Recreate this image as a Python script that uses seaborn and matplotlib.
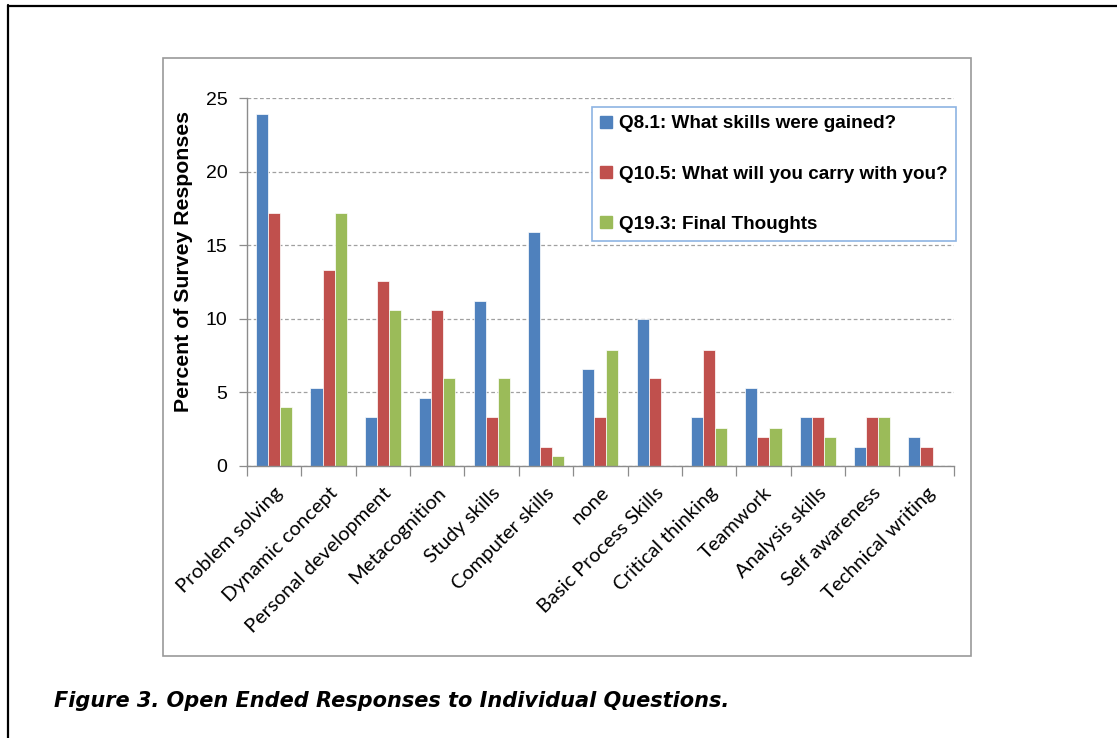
import matplotlib
matplotlib.use("Agg")
import matplotlib.pyplot as plt
from matplotlib.lines import Line2D
from matplotlib.patches import Rectangle
import numpy as np
import pandas as pd
import seaborn as sns

# Survey data (percent of responses)
categories = ["Problem solving", "Dynamic concept", "Personal development",
              "Metacognition", "Study skills", "Computer skills", "none",
              "Basic Process Skills", "Critical thinking", "Teamwork",
              "Analysis skills", "Self awareness", "Technical writing"]
q8_1 = [23.9, 5.3, 3.3, 4.6, 11.2, 15.9, 6.6, 10.0, 3.3, 5.3, 3.3, 1.3, 2.0]
q10_5 = [17.2, 13.3, 12.6, 10.6, 3.3, 1.3, 3.3, 6.0, 7.9, 2.0, 3.3, 3.3, 1.3]
q19_3 = [4.0, 17.2, 10.6, 6.0, 6.0, 0.7, 7.9, 0.0, 2.6, 2.6, 2.0, 3.3, 0.0]
series_names = ["Q8.1: What skills were gained?",
                "Q10.5: What will you carry with you?",
                "Q19.3: Final Thoughts"]
y_ticks = [0, 5, 10, 15, 20, 25]
caption = "Figure 3. Open Ended Responses to Individual Questions."

colors = ["#4F81BD", "#C0504D", "#9BBB59"]

df = pd.DataFrame({
    "category": categories * 3,
    "value": q8_1 + q10_5 + q19_3,
    "series": sum([[s] * len(categories) for s in series_names], []),
})

sns.set_theme(style="white")
plt.rcParams["font.family"] = ["Liberation Sans", "DejaVu Sans"]
plt.rcParams.update({"text.color": "black", "axes.labelcolor": "black",
                     "xtick.color": "black", "ytick.color": "black"})

W, H = 1117, 738
fig = plt.figure(figsize=(W / 100, H / 100), dpi=100)
fig.patch.set_facecolor("white")

def fx(px):
    return px / W

def fy(py):
    return 1 - py / H

# page frame lines
fig.add_artist(Line2D([fx(8), fx(8)], [fy(5), 0], color="black", lw=1.6,
                      transform=fig.transFigure))
fig.add_artist(Line2D([fx(8), 1], [fy(6), fy(6)], color="black", lw=1.6,
                      transform=fig.transFigure))
# chart area border
fig.add_artist(Rectangle((fx(163), fy(656)), fx(971) - fx(163), fy(58) - fy(656),
                         fill=False, edgecolor="#9A9A9A", lw=1.2,
                         transform=fig.transFigure))

ax_l, ax_r, ax_t, ax_b = 247, 953.7, 98.3, 466
ax = fig.add_axes([fx(ax_l), fy(ax_b), fx(ax_r) - fx(ax_l), fy(ax_t) - fy(ax_b)])

sns.barplot(data=df, x="category", y="value", hue="series", order=categories,
            hue_order=series_names, palette=colors, saturation=1, width=0.665,
            edgecolor="white", linewidth=0.5, legend=False, ax=ax)

ax.set_xlim(-0.5, len(categories) - 0.5)
ax.set_ylim(0, 25)
ax.set_yticks(y_ticks)
ax.set_yticklabels([str(t) for t in y_ticks], fontsize=14, color="black")
ax.yaxis.grid(True, linestyle=(0, (3, 2)), color="#A0A0A0", lw=0.9)
ax.set_axisbelow(True)

for side in ["top", "right"]:
    ax.spines[side].set_visible(False)
for side in ["left", "bottom"]:
    ax.spines[side].set_color("#8C8C8C")
    ax.spines[side].set_linewidth(1.0)

ax.tick_params(axis="y", which="major", length=6, width=0.9, color="#8C8C8C",
               pad=8, left=True)
ax.set_xticks(np.arange(len(categories)))
ax.set_xticklabels(categories, rotation=45, ha="right", va="top",
                   rotation_mode="anchor", fontsize=14.5,
                   family=["Lato", "DejaVu Sans"])
ax.tick_params(axis="x", which="major", length=0, pad=13)
ax.set_xticks(np.arange(-0.5, len(categories)), minor=True)
ax.tick_params(axis="x", which="minor", length=7, width=0.9, color="#8C8C8C",
               bottom=True)

ax.set_xlabel("")
ax.set_ylabel("Percent of Survey Responses", fontsize=15.3, fontweight="bold")
ax.yaxis.set_label_coords((193 - ax_l) / (ax_r - ax_l), (ax_b - 261) / (ax_b - ax_t))

handles = [Line2D([], [], marker="s", linestyle="", markersize=9,
                  markerfacecolor=c, markeredgecolor=c) for c in colors]
leg = ax.legend(handles, series_names, loc="center",
                bbox_to_anchor=((774 - ax_l) / (ax_r - ax_l),
                                (ax_b - 174) / (ax_b - ax_t)),
                prop={"family": ["Liberation Sans", "DejaVu Sans"],
                      "weight": "bold", "size": 13.6},
                frameon=True, fancybox=False, borderpad=0.45,
                handlelength=0.67, handleheight=0.7, handletextpad=0.35,
                labelspacing=1.75, borderaxespad=0)
leg.get_frame().set_edgecolor("#8EB4E3")
leg.get_frame().set_linewidth(1.2)
leg.get_frame().set_facecolor("white")
leg.get_frame().set_alpha(1)

fig.text(fx(54), fy(701), caption, ha="left", va="center",
         fontsize=15, fontweight="bold", fontstyle="italic",
         family=["DejaVu Sans"], color="black")

fig.savefig("out.png", dpi=100, facecolor="white")
